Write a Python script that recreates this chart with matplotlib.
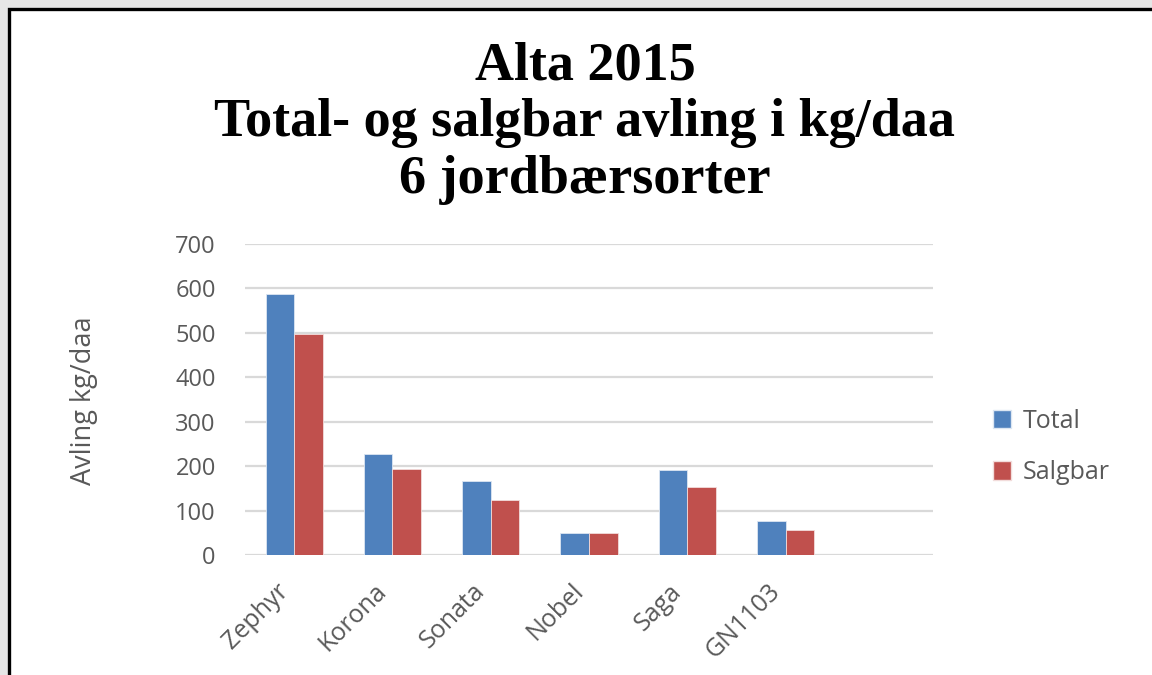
import numpy as np
import matplotlib
matplotlib.use('Agg')
import matplotlib.pyplot as plt
from matplotlib.patches import Rectangle, Patch
from matplotlib.transforms import ScaledTranslation

# data
sorter = ['Zephyr', 'Korona', 'Sonata', 'Nobel', 'Saga', 'GN1103']
total = [587, 228, 167, 51, 192, 78]
salgbar = [497, 195, 124, 51, 154, 58]
y_ticks = [0, 100, 200, 300, 400, 500, 600, 700]

blue = '#4F81BD'
red = '#C0504D'
grey_txt = '#595959'

fig = plt.figure(figsize=(11.52, 6.75), dpi=100)
fig.patch.set_facecolor('#e6e6e6')

# white chart area with black frame (runs off the right and bottom edges)
frame = Rectangle((8.5 / 1152, -0.1), 1.2, 1 - 8.5 / 675 + 0.1,
                  transform=fig.transFigure, facecolor='white',
                  edgecolor='black', linewidth=2.4, zorder=-5)
fig.patches.append(frame)

ax = fig.add_axes([245 / 1152, 1 - 555.3 / 675, 688 / 1152, (555.3 - 244) / 675])
ax.set_facecolor('none')

x = np.arange(len(sorter))
w = 0.29
ax.bar(x - w / 2, total, width=w, color=blue, edgecolor='#dce6f2', linewidth=0.6, zorder=3)
ax.bar(x + w / 2, salgbar, width=w, color=red, edgecolor='#f2dcdb', linewidth=0.6, zorder=3)

ax.set_xlim(-0.5, 6.5)
ax.set_ylim(0, 700)
ax.set_yticks(y_ticks)
ax.set_yticklabels([str(v) for v in y_ticks], fontsize=17, color=grey_txt, family='Open Sans')
ax.grid(axis='y', color='#d9d9d9', linewidth=1.6, zorder=0)
ax.tick_params(axis='y', length=0, pad=21)
ax.tick_params(axis='x', length=0, pad=4)
for s in ax.spines.values():
    s.set_visible(False)

ax.set_xticks(x)
ax.set_xticklabels(sorter, rotation=45, ha='right', va='top', rotation_mode='anchor',
                   fontsize=18, color=grey_txt, family='Open Sans')
shift = ScaledTranslation(-0.18, -0.18, fig.dpi_scale_trans)
for lbl in ax.get_xticklabels():
    lbl.set_transform(lbl.get_transform() + shift)

fig.text(84 / 1152, 1 - 401 / 675, 'Avling kg/daa', rotation=90, ha='center', va='center',
         fontsize=19.5, color=grey_txt, family='Open Sans')

fig.text(585 / 1152, 1 - 42 / 675, 'Alta 2015\nTotal- og salgbar avling i kg/daa\n6 jordbærsorter',
         ha='center', va='top', fontsize=39, fontweight='bold', family='Liberation Serif',
         linespacing=1.17, color='black')

handles = [Patch(facecolor=blue, edgecolor='#dce6f2'), Patch(facecolor=red, edgecolor='#f2dcdb')]
fig.legend(handles, ['Total', 'Salgbar'], loc='center left',
           bbox_to_anchor=(970 / 1152, 1 - 447 / 675), frameon=False,
           prop={'family': 'Open Sans', 'size': 18}, labelcolor=grey_txt,
           handlelength=0.75, handleheight=0.75, handletextpad=0.45, labelspacing=1.05)

fig.savefig('out.png', dpi=100, facecolor=fig.get_facecolor())
